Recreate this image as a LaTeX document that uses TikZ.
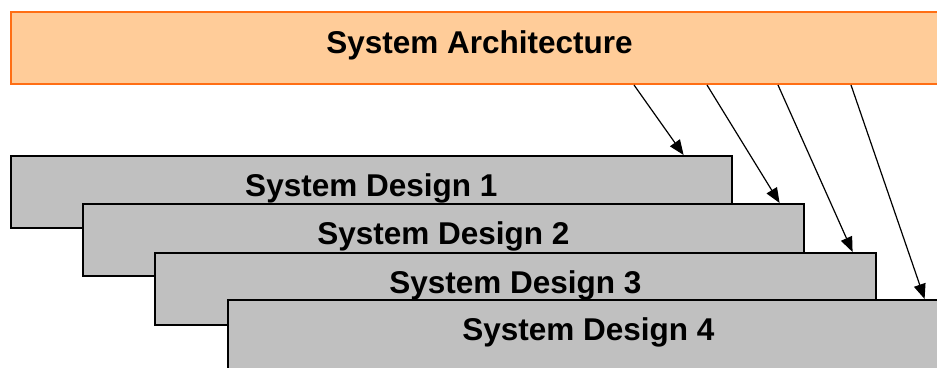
\documentclass[tikz,border=0pt]{standalone}
\usepackage{fontspec}
\setmainfont{Liberation Sans}
\usetikzlibrary{arrows.meta, calc}
\definecolor{archfill}{RGB}{255,204,153}
\definecolor{archline}{RGB}{255,110,20}
\definecolor{designfill}{RGB}{192,192,192}
\tikzstyle{arch} = [draw=archline, line width=2pt, fill=archfill, rectangle, anchor=north west, minimum width=937pt, minimum height=72pt, inner sep=0pt, text height=20pt, text depth=10pt, font=\fontsize{31.5}{36}\selectfont\bfseries]
\tikzstyle{design} = [draw=black, line width=1.6pt, fill=designfill, rectangle, anchor=north west, minimum width=721pt, minimum height=72pt, inner sep=0pt, text height=20pt, text depth=10pt, font=\fontsize{31.5}{36}\selectfont\bfseries]
\tikzstyle{flow} = [-{Triangle[length=15pt, width=12pt]}, line width=1.2pt]

\begin{document}
\begin{tikzpicture}[x=1pt, y=1pt]
    \useasboundingbox (0,0) rectangle (937,-367);
    \begin{scope}
    \clip (0,0) rectangle (937,-367);
    \node[arch] (arch) at (10,-11) {System Architecture};
    \node[design] (d1) at (10,-155) {System Design 1};
    \node[design] (d2) at (82,-203) {System Design 2};
    \node[design] (d3) at (154,-252) {System Design 3};
    \node[design] (d4) at (227,-299) {System Design 4};
    \foreach \i/\s/\e in {1/624/49, 2/697/25, 3/768/24, 4/841/25}
        \draw[flow] ($(arch.south west)+(\s,0)$) -- ($(d\i.north east)+(-\e,0)$);
    \end{scope}
\end{tikzpicture}
\end{document}
